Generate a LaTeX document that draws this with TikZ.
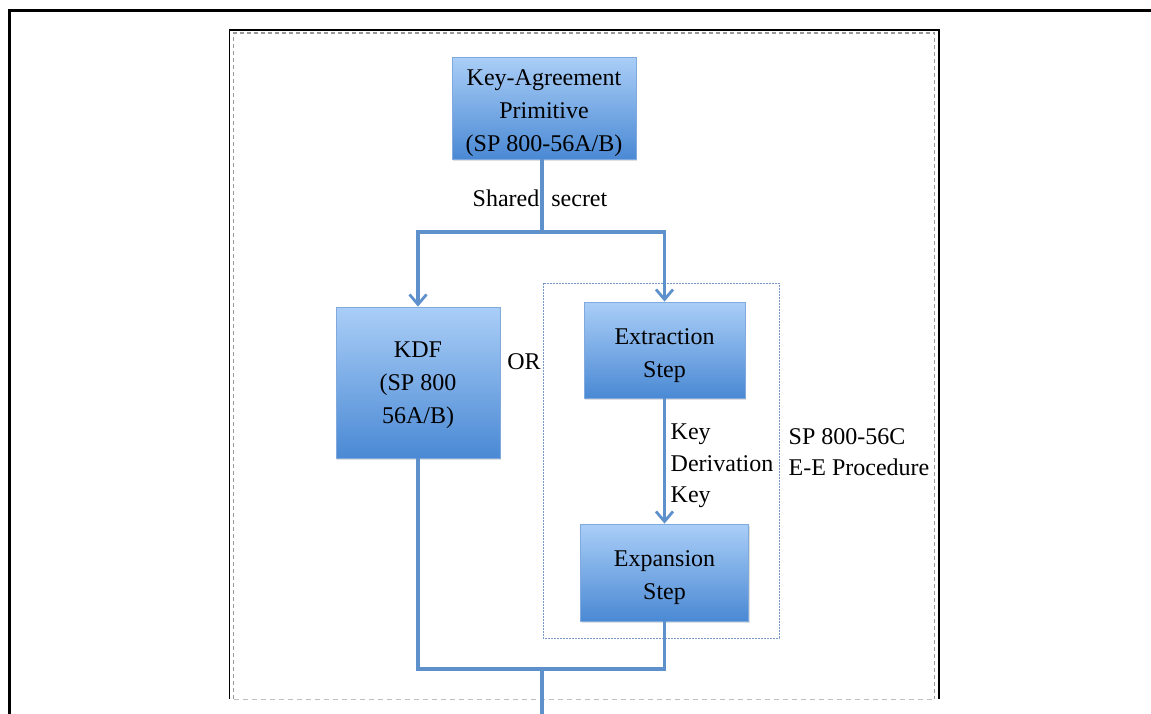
\documentclass[tikz,border=0pt]{standalone}
\usepackage{fontspec}
\setmainfont{Liberation Serif}
\usetikzlibrary{arrows.meta,shadows}
\definecolor{boxtop}{RGB}{170,206,247}
\definecolor{boxbot}{RGB}{74,137,212}
\definecolor{boxline}{RGB}{128,170,222}
\definecolor{conn}{RGB}{94,144,203}
\definecolor{dashblue}{RGB}{120,150,200}
\tikzset{
  stepbox/.style={draw=boxline, line width=0.8pt, top color=boxtop, bottom color=boxbot,
    inner sep=0pt,
    drop shadow={opacity=0.25, shadow xshift=1pt, shadow yshift=-2pt}},
  boxtext/.style={font=\fontsize{24}{33}\selectfont, align=center, inner sep=0pt},
  lbl/.style={font=\fontsize{24}{31.5}\selectfont, inner sep=0pt},
  conn/.style={draw=conn, line width=3.2pt},
  arr/.style={conn, -{Straight Barb[length=10pt,width=17pt,line width=2.8pt]}},
}
\begin{document}
\begin{tikzpicture}[x=1pt,y=-1pt]
\useasboundingbox (0,0) rectangle (1151,713);
\clip (0,0) rectangle (1151,713);
% frames
\draw[line width=3pt] (9.5,10.5) rectangle (1170,730);
\draw[line width=1.2pt] (229.5,699) -- (229.5,30) -- (939,30) -- (939,699);
\draw[gray!80, line width=1.5pt, dash pattern=on 4pt off 3pt] (233.5,699) -- (233.5,33) -- (934.5,33) -- (934.5,699);
\draw[gray!50, line width=1pt, dash pattern=on 5pt off 4pt] (233.5,699) -- (934.5,699);
% SP 800-56C box
\draw[dashblue, line width=1pt, dash pattern=on 2pt off 1pt] (543,283) rectangle (779,638);
% boxes
\node[stepbox, minimum width=184pt, minimum height=102pt] (ka) at (544,108) {};
\node[stepbox, minimum width=164pt, minimum height=151pt] (kdf) at (418,382.5) {};
\node[stepbox, minimum width=161pt, minimum height=96pt] (ext) at (664.5,350) {};
\node[stepbox, minimum width=168pt, minimum height=97pt] (exp) at (664.5,572.5) {};
\node[boxtext] (kat) at ([yshift=-5pt]ka.center) {Key-Agreement\\Primitive\\(SP 800-56A/B)};
\node[boxtext] (kdft) at ([yshift=-3pt]kdf.center) {KDF\\(SP 800\\56A/B)};
\node[boxtext] (extt) at ([yshift=-6pt]ext.center) {Extraction\\Step};
\node[boxtext] (expt) at ([yshift=-5pt]exp.center) {Expansion\\Step};
% labels
\node[lbl] (ss) at (540,198) {Shared\hspace{12pt}secret};
\node[lbl] (or) at (524,362) {OR};
\node[lbl, align=left, anchor=west] (dk) at (670.5,466) {Key\\Derivation\\Key};
\node[lbl, align=left, anchor=west] (sp) at (788.5,452) {SP 800-56C\\E-E Procedure};
% connectors
\coordinate (j1) at (542,232);
\coordinate (j2) at (542,669);
\coordinate (out) at (542,720);
\draw[conn] (ka.south -| j1) -- (j1);
\draw[arr] (j1) -| (kdf.north);
\draw[arr] (j1) -| (ext.north);
\draw[arr] (ext.south) -- (exp.north);
\draw[conn] (kdf.south) |- (j2);
\draw[conn] (exp.south) |- (j2);
\draw[conn] (j2) -- (out);
\end{tikzpicture}
\end{document}
